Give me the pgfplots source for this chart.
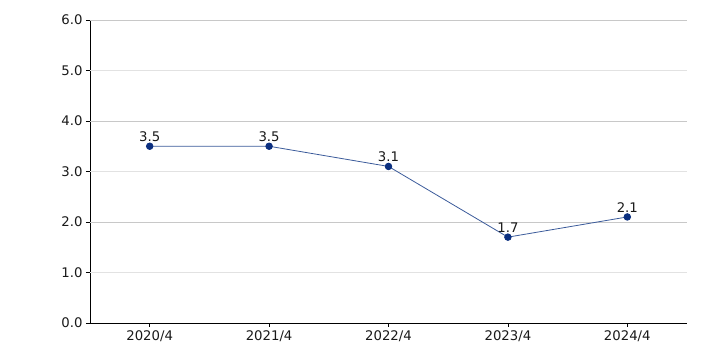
\documentclass[border=0pt]{standalone}
\usepackage{pgfplots}
\pgfplotsset{compat=1.18}
\usetikzlibrary{calc}
\usepackage{fontspec}
\setmainfont{DejaVu Sans}
\definecolor{linecol}{HTML}{3A5A9A}
\definecolor{markcol}{HTML}{0B2F7F}
\definecolor{gridA}{HTML}{C8C8C8}
\definecolor{gridB}{HTML}{E2E2E2}
\begin{document}
\begin{tikzpicture}
\begin{axis}[
  scale only axis,
  width=597bp, height=303bp,
  xmin=-0.5, xmax=4.5,
  ymin=0, ymax=6,
  xtick={0,1,2,3,4},
  xticklabels={2020/4,2021/4,2022/4,2023/4,2024/4},
  ytick={0,1,2,3,4,5,6},
  yticklabel style={/pgf/number format/.cd,fixed,fixed zerofill,precision=1,/tikz/.cd},
  /pgf/number format/assume math mode=true,
  tick label style={font=\fontsize{13.3}{15}\selectfont, text=black!90},
  axis x line*=bottom,
  axis y line*=left,
  axis line style={black, line width=0.9pt},
  tick style={black, line width=0.8pt},
  tick align=outside,
  major tick length=4bp,
  clip=false,
]
\addplot[gridA, line width=0.8pt, forget plot] coordinates {(-0.5,6) (4.5,6)};
\addplot[gridB, line width=0.8pt, forget plot] coordinates {(-0.5,5) (4.5,5)};
\addplot[gridA, line width=0.8pt, forget plot] coordinates {(-0.5,4) (4.5,4)};
\addplot[gridB, line width=0.8pt, forget plot] coordinates {(-0.5,3) (4.5,3)};
\addplot[gridA, line width=0.8pt, forget plot] coordinates {(-0.5,2) (4.5,2)};
\addplot[gridB, line width=0.8pt, forget plot] coordinates {(-0.5,1) (4.5,1)};
\addplot[
  color=linecol, line width=0.8pt,
  mark=*, mark size=3.3bp, mark options={fill=markcol, draw=markcol},
  nodes near coords,
  point meta=explicit symbolic,
  every node near coord/.append style={font=\fontsize{13.3}{15}\selectfont, text=black!90, inner sep=2bp, yshift=2bp},
] coordinates {
  (0,3.5) [3.5]
  (1,3.5) [3.5]
  (2,3.1) [3.1]
  (3,1.7) [1.7]
  (4,2.1) [2.1]
};
\end{axis}
\path[use as bounding box] ($(current axis.south west)+(-90bp,-30bp)$) rectangle ($(current axis.north east)+(19bp,20bp)$);
\end{tikzpicture}
\end{document}
